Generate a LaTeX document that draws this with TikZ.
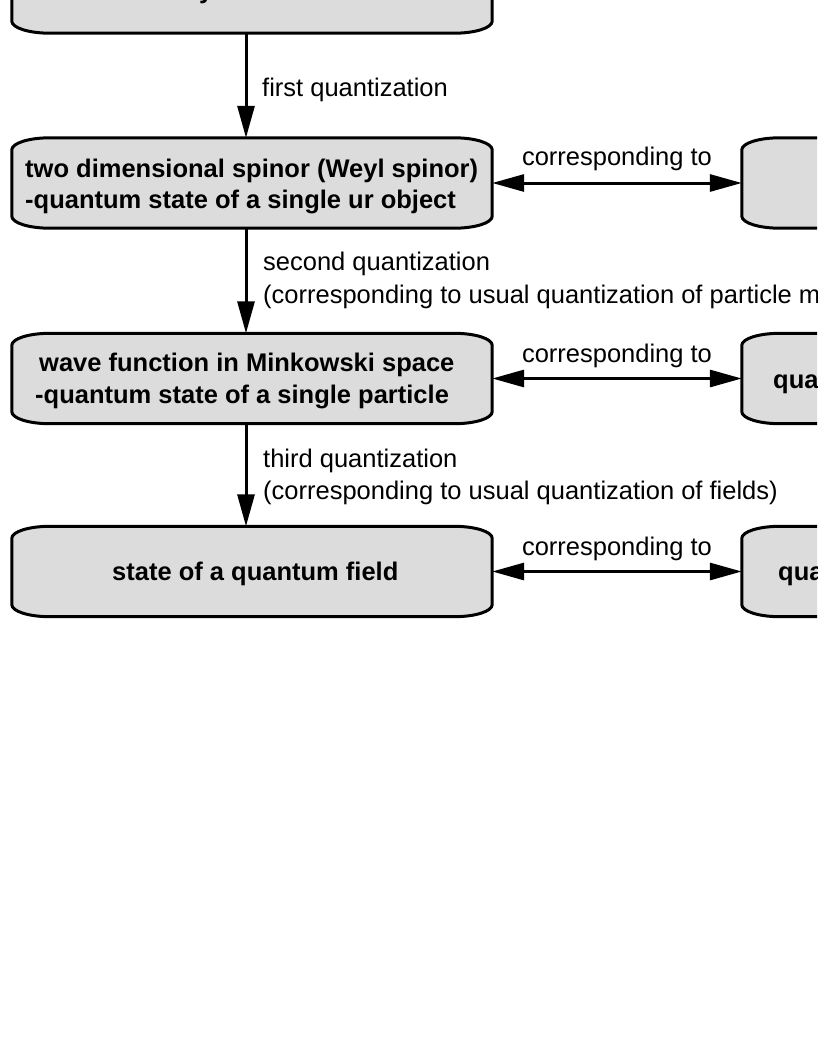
\documentclass[tikz,border=0pt]{standalone}
\usepackage{fontspec}
\setmainfont{Liberation Sans}
\usetikzlibrary{arrows.meta}
\definecolor{boxgray}{HTML}{DCDCDC}
\tikzset{
  boxnode/.style={draw=none, inner sep=0pt, minimum width=480pt, minimum height=90pt},
  boxline/.style={draw=black, fill=boxgray, line width=3pt},
  boxtext/.style={inner sep=0pt, anchor=base west, font=\fontsize{25.5}{30}\selectfont\bfseries},
  lbl/.style={inner sep=0pt, anchor=base west, font=\fontsize{25.5}{30}\selectfont},
  conn/.style={line width=3pt, -{Triangle[length=32pt,width=17pt]}},
  biconn/.style={line width=3pt, {Triangle[length=32pt,width=17pt]}-{Triangle[length=32pt,width=17pt]}}
}
\newcommand\uoutline[1]{%
  \path[boxline] ([xshift=38pt]#1.north west) -- ([xshift=-38pt]#1.north east)
    arc[start angle=90, end angle=0, x radius=38pt, y radius=12pt]
    -- ([yshift=12pt]#1.south east)
    arc[start angle=0, end angle=-90, x radius=38pt, y radius=12pt]
    -- ([xshift=38pt]#1.south west)
    arc[start angle=270, end angle=180, x radius=38pt, y radius=12pt]
    -- ([yshift=-12pt]#1.north west)
    arc[start angle=180, end angle=90, x radius=38pt, y radius=12pt] -- cycle;}
\begin{document}
\begin{tikzpicture}[x=1pt,y=1pt]
\useasboundingbox (0,0) rectangle (817,-1058);
\clip (0,0) rectangle (817,-1058);
\fill[white] (0,0) rectangle (817,-1058);
% boxes
\node[boxnode] (b1) at (252,12) {};
\node[boxnode] (b2) at (252,-183) {};
\node[boxnode] (b3) at (252,-378.5) {};
\node[boxnode] (b4) at (252,-571.5) {};
\node[boxnode] (r2) at (982,-183) {};
\node[boxnode] (r3) at (982,-378.5) {};
\node[boxnode] (r4) at (982,-571.5) {};
\uoutline{b1}\uoutline{b2}\uoutline{b3}\uoutline{b4}
\uoutline{r2}\uoutline{r3}\uoutline{r4}
% box texts
\node[boxtext] (t1) at (199,1.5) {y};
\node[boxtext] (t2a) at (25,-177) {two dimensional spinor (Weyl spinor)};
\node[boxtext] (t2b) at (25,-208) {-quantum state of a single ur object};
\node[boxtext] (t3a) at (39,-371) {wave function in Minkowski space};
\node[boxtext] (t3b) at (35,-403) {-quantum state of a single particle};
\node[boxtext] (t4) at (112,-580) {state of a quantum field};
\node[boxtext] (q3) at (773,-388) {qua};
\node[boxtext] (q4) at (778,-580) {qua};
% vertical connectors
\draw[conn] ([xshift=-6pt]b1.south) -- ([xshift=-6pt]b2.north);
\draw[conn] ([xshift=-6pt]b2.south) -- ([xshift=-6pt]b3.north);
\draw[conn] ([xshift=-6pt]b3.south) -- ([xshift=-6pt]b4.north);
\node[lbl] (l1) at (262,-96) {first quantization};
\node[lbl] (l2a) at (263,-270) {second quantization};
\node[lbl] (l2b) at (263,-303) {(corresponding to usual quantization of particle m};
\node[lbl] (l3a) at (263,-467) {third quantization};
\node[lbl] (l3b) at (263,-499) {(corresponding to usual quantization of fields)};
% horizontal connectors
\draw[biconn] (b2.east) -- (r2.west);
\draw[biconn] (b3.east) -- (r3.west);
\draw[biconn] (b4.east) -- (r4.west);
\node[lbl, anchor=base] (c2) at (617,-165) {corresponding to};
\node[lbl, anchor=base] (c3) at (617,-362) {corresponding to};
\node[lbl, anchor=base] (c4) at (617,-555) {corresponding to};
\end{tikzpicture}
\end{document}
